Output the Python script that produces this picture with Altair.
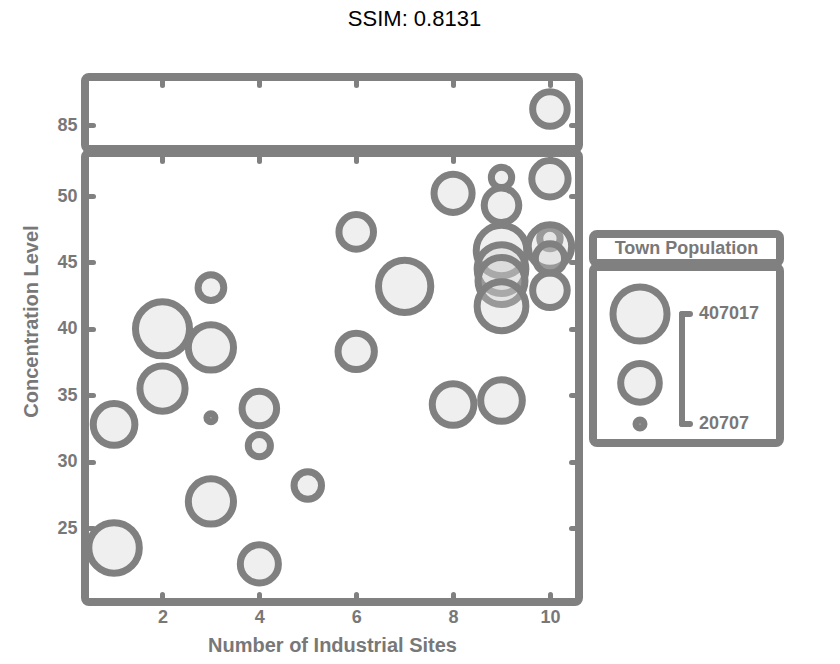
import altair as alt
import pandas as pd

# ---- data ----
sites = [10,
         1, 1,
         2, 2,
         3, 3, 3, 3,
         4, 4, 4,
         5,
         6, 6,
         7,
         8, 8,
         9, 9, 9, 9, 9, 9, 9,
         10, 10, 10, 10, 10]
concentration = [87.0,
                 32.8, 23.5,
                 40.0, 35.5,
                 43.1, 38.6, 33.3, 27.0,
                 34.0, 31.2, 22.3,
                 28.2,
                 47.3, 38.3,
                 43.2,
                 50.2, 34.3,
                 51.4, 49.3, 45.9, 44.5, 43.6, 41.7, 34.6,
                 51.3, 46.8, 46.2, 45.3, 42.9]
population = [173600,
              246600, 357000,
              407017, 288200,
              101300, 288200, 20707, 288200,
              173600, 78400, 208300,
              114100,
              173600, 190500,
              381600,
              208300, 246600,
              68100, 173600, 357000, 333200, 310200, 333200, 246600,
              190500, 68100, 267000, 127600, 173600]

y_ticks_bottom = [25, 30, 35, 40, 45, 50]
y_ticks_top = [85]
x_ticks = [2, 4, 6, 8, 10]
legend_title = "Town Population"
legend_values = [407017, 213862, 20707]
x_title = "Number of Industrial Sites"
y_title = "Concentration Level"

df = pd.DataFrame({"sites": sites, "conc": concentration, "pop": population})
legend_df = pd.DataFrame({"pop": legend_values})
POP_MIN, POP_MAX = min(legend_values), max(legend_values)

GRAY = "#808080"
TXT = "#787878"
FONT = "Liberation Sans"
OFF = -8  # axes sit just inside the thick frame

x_scale = alt.Scale(domain=[0.4, 10.6], nice=False, zero=False)
size_scale = alt.Scale(domain=[POP_MIN, POP_MAX], range=[64, 2922], zero=False)

CIRCLE = dict(shape="circle", filled=False, fill="#cccccc", fillOpacity=0.32,
              stroke=GRAY, strokeOpacity=1, strokeWidth=7, opacity=1)


def tick_axis(orient, values, labels, title=None, **kw):
    args = dict(
        orient=orient, values=values, labels=labels, domain=False, grid=False,
        ticks=True, tickColor=GRAY, tickSize=4, tickWidth=5, tickCap="round",
        offset=OFF,
        labelFont=FONT, labelFontWeight="bold", labelFontSize=18, labelColor=TXT,
        labelPadding=12,
        titleFont=FONT, titleFontWeight="bold", titleColor=TXT,
    )
    args["title"] = title
    args.update(kw)
    return alt.Axis(**args)


def panel(filter_expr, y_domain, y_values, height, is_bottom, y_kw):
    base = alt.Chart(df).transform_filter(filter_expr)
    ys = alt.Scale(domain=y_domain, nice=False, zero=False)
    if is_bottom:
        x_axis = tick_axis("bottom", x_ticks, True, x_title,
                           titleFontSize=20, titlePadding=9, labelPadding=10)
        ghost_x = tick_axis("top", x_ticks, False)
        yt = y_title
    else:
        x_axis = tick_axis("top", x_ticks, False)
        ghost_x = None
        yt = None
    pts = base.mark_point(clip=True, **CIRCLE).encode(
        x=alt.X("sites:Q", scale=x_scale, axis=x_axis),
        y=alt.Y("conc:Q", scale=ys, axis=tick_axis("left", y_values, True, yt, **y_kw)),
        size=alt.Size("pop:Q", scale=size_scale, legend=None),
    )
    ghost = base.mark_point(opacity=0).encode(
        x=alt.X("sites:Q", scale=x_scale, axis=ghost_x),
        y=alt.Y("conc:Q", scale=ys, axis=tick_axis("right", y_values, False)),
    )
    return alt.layer(pts, ghost).resolve_axis(
        x="independent", y="independent").properties(width=494, height=height)


top = panel("datum.conc > 60", [82, 91], y_ticks_top, 72, False, {})
bottom = panel("datum.conc <= 60", [19.43, 53.24], y_ticks_bottom, 449, True,
               {"titleFontSize": 20, "titleX": -52, "titleY": 168})
main = alt.vconcat(top, bottom, spacing=-5)

# ---- legend drawn as its own small framed panels ----
LW = 187
spacer = alt.Chart(legend_df).mark_point(opacity=0).encode(
    x=alt.X("pop:Q", axis=None), y=alt.Y("pop:Q", axis=None)
).properties(width=LW, height=149, view=alt.ViewBackground(stroke="transparent"))

header = alt.Chart(alt.Data(values=[{"t": legend_title}])).mark_text(
    font=FONT, fontWeight="bold", fontSize=18, color=TXT
).encode(
    text="t:N", x=alt.value(LW / 2), y=alt.value(15)
).properties(width=LW, height=29)

ly = alt.Scale(domain=[POP_MIN, POP_MAX], range=[157, 47], type="pow", exponent=1.5)
lbase = alt.Chart(legend_df)
l_sym = lbase.mark_point(**CIRCLE).encode(
    x=alt.value(47),
    y=alt.Y("pop:Q", scale=ly, axis=None),
    size=alt.Size("pop:Q", scale=size_scale, legend=None),
)
l_ends = lbase.transform_filter(
    f"datum.pop == {POP_MIN} || datum.pop == {POP_MAX}")
l_bracket = lbase.transform_aggregate(lo="min(pop)", hi="max(pop)").mark_rule(
    color=GRAY, strokeWidth=6, strokeCap="round"
).encode(x=alt.value(89), y=alt.Y("lo:Q", scale=ly, axis=None), y2="hi:Q")
l_hooks = l_ends.mark_rule(color=GRAY, strokeWidth=6, strokeCap="round").encode(
    x=alt.value(89), x2=alt.value(97), y=alt.Y("pop:Q", scale=ly, axis=None))
l_text = l_ends.transform_calculate(lab="format(datum.pop, 'd')").mark_text(
    font=FONT, fontWeight="bold", fontSize=18, color=TXT, align="left", baseline="middle"
).encode(x=alt.value(106), y=alt.Y("pop:Q", scale=ly, axis=None), text="lab:N")
body = alt.layer(l_sym, l_bracket, l_hooks, l_text).properties(width=LW, height=176)

legend = alt.vconcat(spacer, alt.vconcat(header, body, spacing=-7), spacing=0)

chart = alt.hconcat(main, legend, spacing=6).properties(
    title=alt.TitleParams("SSIM: 0.8131", fontSize=22, font=FONT, fontWeight="normal",
                          color="#000000", anchor="middle", offset=42, dx=14),
    padding={"left": 17, "top": 8, "right": 5, "bottom": 5},
    background="#ffffff",
).configure_view(
    stroke=GRAY, strokeWidth=8, cornerRadius=4
)

chart.save("out.html", embed_options={"renderer": "svg", "actions": False})
